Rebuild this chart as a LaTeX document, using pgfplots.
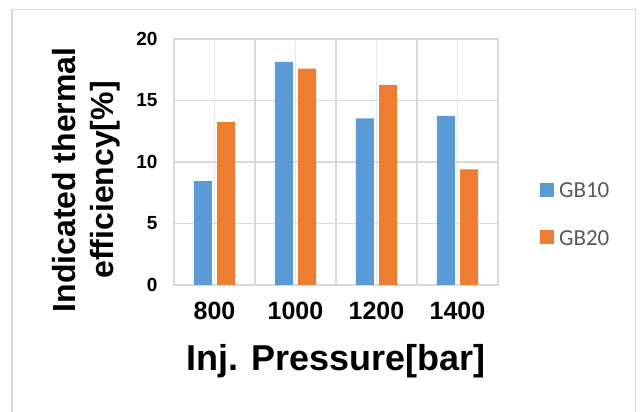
\documentclass[border=0pt]{standalone}
\usepackage{fontspec}
\setmainfont{Liberation Sans}
\newfontfamily\legfont{Carlito}
\usepackage{pgfplots}
\pgfplotsset{compat=1.18}
\definecolor{gbblue}{HTML}{5B9BD5}
\definecolor{gborange}{HTML}{ED7D31}
\definecolor{gridA}{HTML}{D9D9D9}
\definecolor{gridB}{HTML}{E9E9E9}
\definecolor{legtext}{HTML}{595959}
\begin{document}
\begin{tikzpicture}
\path[use as bounding box] (0,0) rectangle (644bp,412bp);
\draw[gridA, line width=1.5bp] (12bp,-10bp) -- (12bp,402.5bp) -- (635.5bp,402.5bp) -- (635.5bp,-10bp);
\begin{axis}[
  at={(174bp,127bp)}, anchor=south west, scale only axis,
  width=324bp, height=246bp,
  xmin=-0.5, xmax=3.5, ymin=0, ymax=20,
  xtick={0,1,2,3}, xticklabels={800,1000,1200,1400},
  minor xtick={-0.5,0.5,1.5,2.5,3.5},
  ytick={0,5,10,15,20},
  major tick length=0pt, minor tick length=0pt,
  xmajorgrids, xminorgrids, ymajorgrids,
  axis line style={draw=gridA, line width=1.5bp},
  major grid style={draw=gridB, line width=1.3bp},
  minor grid style={draw=gridA, line width=1.5bp},
  y grid style={draw=gridA, line width=1.5bp},
  /pgf/number format/assume math mode=true,
  yticklabel style={font=\fontsize{19bp}{22bp}\selectfont\bfseries, anchor=east, inner sep=0pt, xshift=-16.3bp},
  xticklabel style={font=\fontsize{25bp}{28bp}\selectfont\bfseries, anchor=north, inner sep=0pt, yshift=-17.3bp},
  xlabel={Inj. Pressure[bar]},
  xlabel style={at={(axis description cs:0.5,0)}, anchor=base, yshift=-85bp, inner sep=0pt, font=\fontsize{36bp}{40bp}\selectfont\bfseries},
  ylabel={Indicated thermal\\efficiency[\%]},
  ylabel style={at={(axis description cs:0,0.427)}, anchor=south, yshift=54bp, align=center, inner sep=0pt, font=\fontsize{32bp}{37.6bp}\selectfont\bfseries},
  legend style={at={(axis description cs:1.12963,0.416)}, anchor=north west, draw=none, fill=none, inner sep=0pt, outer sep=0pt, row sep=31bp, column sep=5bp, nodes={inner sep=0pt, font=\legfont\fontsize{23bp}{26bp}\selectfont, text=legtext}},
  legend cell align=left,
  legend image code/.code={\fill[#1] (0bp,-5.5bp) rectangle (14bp,8.5bp);},
]
\addplot[ybar, bar width=18bp, bar shift=-11.6bp, fill=gbblue, draw=none] coordinates {(0,8.45) (1,18.13) (2,13.55) (3,13.74)};
\addlegendentry{GB10}
\addplot[ybar, bar width=18bp, bar shift=11.6bp, fill=gborange, draw=none] coordinates {(0,13.25) (1,17.6) (2,16.26) (3,9.4)};
\addlegendentry{GB20}
\end{axis}
\end{tikzpicture}
\end{document}
